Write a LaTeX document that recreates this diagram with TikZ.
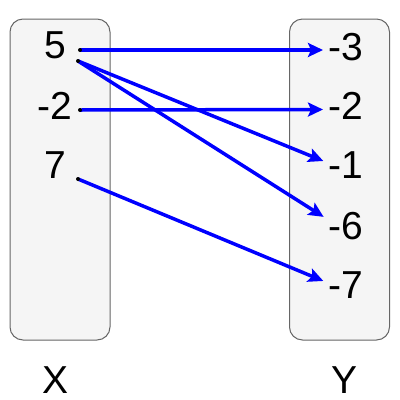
\documentclass[tikz,border=0pt]{standalone}
\usepackage{fontspec}
\setmainfont{Liberation Sans}
\usetikzlibrary{arrows.meta,positioning,calc}

\begin{document}
\begin{tikzpicture}[->,>={Stealth[length=15pt,width=14pt,inset=3pt]},shorten >=4pt,x=1pt,y=-1pt,line width=3.5pt,font=\fontsize{39}{44}\selectfont]
	\useasboundingbox (0,0) rectangle (400,400);
	\tikzset{setbox/.style={shape=rectangle,draw=black!60,fill=black!4,line width=1pt,rounded corners=13pt,minimum width=100pt,minimum height=321pt,inner sep=0pt},
		elem/.style={inner sep=0pt},
		map/.style={draw=blue}}
	%% Sets
	\node (setX) [setbox] at (60,179.5) {};
	\node (setY) [setbox] at (339.5,179.5) {};
	\node (labX) [elem] at (56,380) {X};
	\node (labY) [elem] at (345,380) {Y};
	
	%% Domain
	\node (x5) [elem] at (55,45.5) {5};
	\node (x2) [elem] at (55,106) {-2};
	\node (x7) [elem] at (55,165.5) {7};
	\coordinate (s5a) at (80,50);
	\coordinate (s5b) at (78,61);
	\coordinate (s2) at (80,110);
	\coordinate (s7) at (78,179);
	
	%% Codomain
	\node (y3) [elem,anchor=west] at (327,47) {-3};
	\node (y2) [elem,anchor=west] at (327,105.5) {-2};
	\node (y1) [elem,anchor=west] at (327,165.5) {-1};
	\node (y6) [elem,anchor=west] at (327,226) {-6};
	\node (y7) [elem,anchor=west] at (327,285.5) {-7};
	
	%% Mapping
	\draw[map] (s5a) -- ([yshift=-3pt]y3.west);
	\draw[map] (s5b) -- ([yshift=3pt]y1.west);
	\draw[map] (s5b) -- ([yshift=7pt]y6.west);
	\draw[map] (s2) -- ([yshift=-4pt]y2.west);
	\draw[map] (s7) -- ([yshift=3pt]y7.west);
	\foreach \s in {s5a,s5b,s2,s7}
		\fill[-] (\s) circle (2pt);
\end{tikzpicture}
\end{document}
